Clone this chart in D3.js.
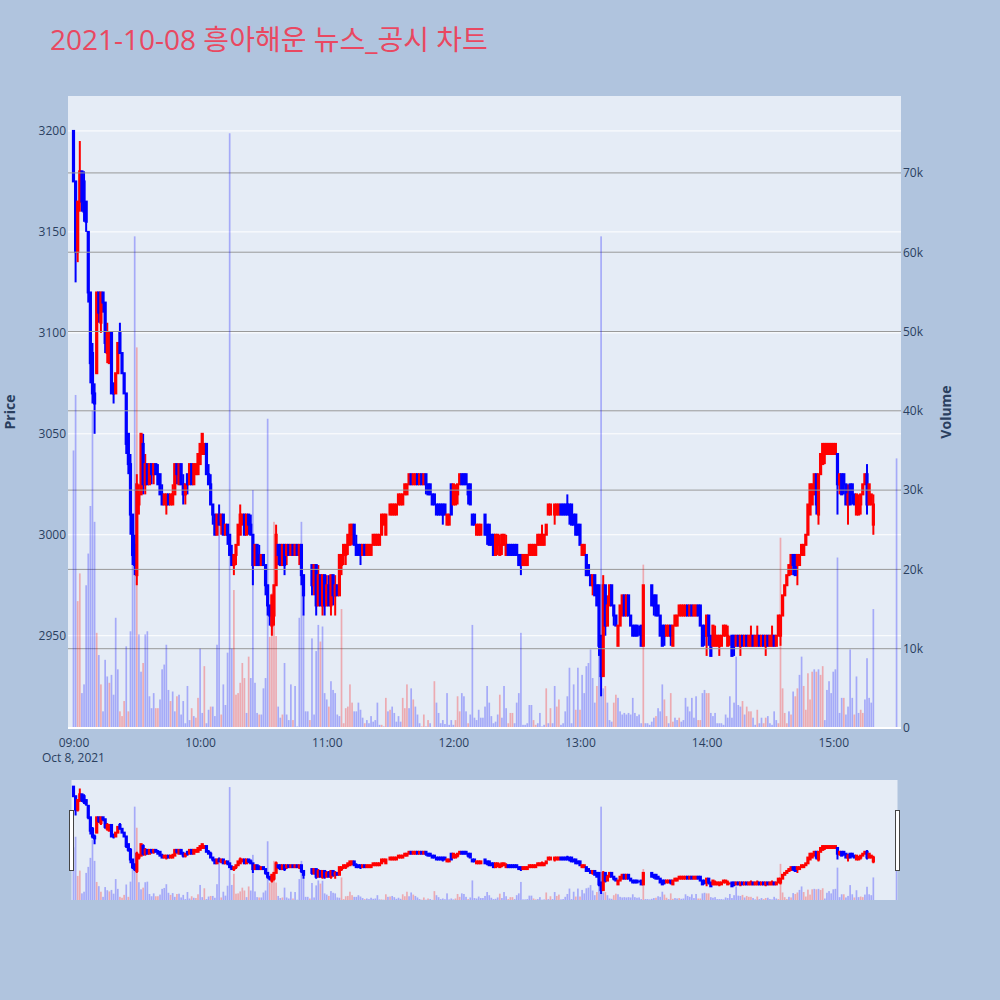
<!DOCTYPE html>
<html>
<head>
<meta charset="utf-8">
<script src="https://cdn.jsdelivr.net/npm/d3@7"></script>
<style>
  body { margin: 0; background: #b0c4de; }
  text { font-family: "Open Sans", "Noto Sans CJK KR", sans-serif; }
</style>
</head>
<body>
<div id="chart"></div>
<script>
// 1-minute candles 09:00 ~ 15:19, then the 15:30 closing auction
var opens = [
  3200,3175,3140,3165,3180,3175,3165,3150,3120,3090,
  3070,3080,3120,3105,3120,3115,3090,3085,3100,3075,
  3070,3080,3100,3090,3080,3070,3050,3035,3010,2995,
  2980,3015,3020,3045,3025,3035,3025,3035,3030,3035,
  3030,3030,3020,3015,3015,3020,3015,3015,3020,3035,
  3025,3035,3025,3020,3030,3025,3035,3025,3030,3030,
  3035,3040,3040,3045,3030,3025,3015,3010,3000,3010,
  3005,3010,3000,3005,3000,2990,2985,2990,2995,3000,
  3005,3010,3000,3010,3005,3000,2985,2995,2990,2985,
  2990,2985,2975,2965,2955,2960,2975,2995,2995,2985,
  2995,2990,2995,2990,2995,2990,2995,2990,2995,2980,
  2985,2985,2985,2985,2975,2985,2965,2980,2965,2980,
  2965,2975,2965,2980,2970,2975,2970,2985,2990,2990,
  2995,2995,3000,3005,2995,2995,2995,2990,2995,2990,
  2990,2990,2995,2995,2995,2995,3000,3005,3000,3010,
  3010,3010,3010,3010,3015,3015,3015,3020,3020,3025,
  3030,3025,3025,3030,3025,3030,3025,3030,3025,3025,
  3020,3020,3015,3015,3015,3015,3015,3005,3005,3025,
  3015,3015,3020,3025,3030,3030,3030,3025,3025,3010,
  3010,3000,3000,3000,3005,3010,3005,3005,3000,3000,
  2990,2995,2990,2995,2995,2990,2995,2995,2995,2995,
  2995,2990,2990,2985,2985,2985,2990,2990,2990,2990,
  2995,2995,2995,2995,3000,3010,3010,3010,3010,3010,
  3010,3015,3015,3015,3015,3015,3015,3010,3010,3005,
  3005,2990,2990,2990,2985,2980,2975,2980,2975,2975,
  2950,2930,2975,2955,2965,2975,2965,2960,2945,2955,
  2960,2970,2960,2970,2960,2955,2955,2955,2950,2955,
  2945,2975,2975,2975,2975,2970,2970,2965,2960,2955,
  2955,2950,2950,2955,2945,2955,2955,2960,2960,2960,
  2960,2965,2960,2965,2960,2960,2965,2965,2955,2955,
  2950,2960,2950,2945,2945,2945,2945,2945,2950,2950,
  2945,2950,2950,2950,2945,2950,2945,2950,2945,2950,
  2945,2945,2950,2945,2945,2950,2945,2950,2945,2950,
  2945,2945,2950,2945,2950,2950,2960,2970,2975,2980,
  2985,2990,2990,2985,2985,2990,2990,2995,3000,3010,
  3015,3020,3030,3010,3030,3035,3040,3040,3040,3040,
  3040,3040,3040,3025,3030,3030,3025,3015,3025,3025,
  3020,3010,3010,3015,3020,3025,3030,3015,3015,3005,
  3010
];
var highs = [
  3200,3175,3165,3195,3180,3180,3165,3150,3120,3095,
  3075,3120,3120,3120,3120,3115,3105,3100,3100,3075,
  3080,3095,3105,3090,3080,3070,3050,3040,3010,3000,
  3030,3025,3050,3050,3040,3035,3035,3035,3035,3035,
  3035,3030,3025,3020,3020,3020,3020,3025,3035,3035,
  3035,3035,3030,3025,3030,3035,3035,3035,3035,3040,
  3045,3050,3045,3045,3035,3030,3015,3010,3010,3015,
  3010,3010,3005,3005,3000,2995,2990,2995,3005,3015,
  3010,3010,3010,3010,3010,3000,2995,2995,2995,2990,
  2990,2985,2975,2965,2970,2975,3005,2995,2995,2995,
  2995,2995,2995,2995,2995,2995,2995,2995,2995,2980,
  2985,2985,2985,2985,2985,2985,2985,2980,2980,2980,
  2980,2980,2980,2980,2980,2975,2990,2990,2995,2995,
  3000,3005,3005,3005,3000,2995,2995,2995,2995,2995,
  2995,2995,3000,3000,3000,3000,3010,3010,3010,3010,
  3015,3015,3015,3015,3020,3020,3020,3025,3025,3030,
  3030,3030,3030,3030,3030,3030,3030,3030,3025,3025,
  3020,3020,3015,3015,3015,3015,3015,3010,3010,3025,
  3025,3025,3025,3030,3030,3030,3030,3025,3025,3010,
  3010,3005,3005,3005,3005,3010,3005,3005,3000,3000,
  3000,3000,3000,3000,3000,3000,2995,2995,2995,2995,
  2995,2990,2990,2990,2990,2990,2995,2995,2995,2995,
  3000,3000,3005,3000,3005,3015,3015,3010,3015,3015,
  3015,3015,3015,3015,3020,3015,3015,3010,3010,3005,
  3005,2995,2995,2990,2985,2980,2980,2980,2975,2975,
  2950,2980,2975,2970,2975,2975,2965,2960,2955,2965,
  2970,2970,2970,2970,2960,2955,2955,2955,2955,2955,
  2975,2975,2975,2975,2975,2970,2970,2965,2960,2955,
  2955,2955,2955,2955,2955,2960,2960,2965,2965,2965,
  2965,2965,2965,2965,2965,2965,2965,2965,2955,2955,
  2960,2960,2950,2955,2955,2950,2950,2950,2955,2955,
  2955,2950,2950,2950,2950,2950,2950,2950,2950,2950,
  2950,2955,2950,2950,2955,2950,2950,2950,2950,2950,
  2950,2955,2950,2950,2960,2960,2970,2975,2980,2985,
  2990,2990,2990,2990,2990,2995,2995,3000,3015,3025,
  3025,3030,3030,3030,3040,3045,3045,3045,3045,3045,
  3045,3045,3040,3030,3030,3030,3025,3025,3025,3025,
  3020,3020,3020,3020,3025,3030,3035,3025,3020,3020,
  3010
];
var lows = [
  3175,3125,3135,3160,3160,3155,3150,3115,3075,3065,
  3050,3080,3105,3100,3110,3090,3085,3085,3070,3065,
  3070,3080,3090,3080,3070,3040,3030,3000,2985,2980,
  2975,3010,3020,3020,3020,3025,3025,3025,3025,3030,
  3025,3020,3015,3015,3010,3015,3015,3015,3020,3025,
  3025,3025,3015,3015,3020,3025,3025,3025,3030,3030,
  3035,3040,3040,3030,3025,3015,3005,3000,3000,3005,
  3000,3000,3000,2995,2990,2985,2980,2985,2995,3000,
  3005,3000,3000,3000,3000,2975,2985,2985,2985,2985,
  2985,2970,2960,2955,2950,2955,2975,2985,2985,2985,
  2980,2985,2990,2990,2990,2990,2990,2985,2975,2960,
  2985,2985,2985,2970,2970,2960,2965,2965,2960,2960,
  2965,2965,2960,2965,2960,2970,2970,2980,2985,2985,
  2990,2995,2995,2995,2990,2990,2985,2990,2990,2990,
  2990,2990,2995,2995,2995,2995,3000,3005,3000,3010,
  3010,3010,3010,3010,3015,3015,3015,3020,3020,3025,
  3025,3025,3025,3025,3025,3025,3025,3020,3020,3020,
  3015,3015,3010,3010,3010,3005,3010,3005,3005,3010,
  3015,3015,3015,3025,3025,3025,3025,3015,3015,3005,
  3005,3000,3000,3000,3005,3000,2995,2995,2995,2990,
  2990,2990,2990,2990,2995,2990,2990,2990,2990,2990,
  2990,2985,2980,2985,2985,2985,2990,2990,2990,2990,
  2995,2995,2995,2995,3000,3010,3010,3010,3005,3010,
  3010,3010,3010,3010,3010,3005,3005,3005,3000,3000,
  2995,2990,2990,2980,2980,2975,2970,2970,2965,2940,
  2920,2930,2950,2955,2965,2965,2955,2955,2945,2955,
  2960,2960,2960,2960,2955,2950,2950,2950,2950,2945,
  2945,2975,2975,2975,2965,2960,2960,2960,2950,2945,
  2945,2950,2950,2945,2945,2955,2955,2960,2960,2960,
  2960,2960,2960,2960,2960,2960,2960,2955,2945,2945,
  2940,2945,2940,2945,2945,2945,2940,2945,2950,2950,
  2945,2945,2940,2940,2945,2945,2940,2945,2945,2945,
  2945,2945,2945,2945,2945,2945,2945,2945,2940,2945,
  2945,2945,2945,2945,2950,2945,2960,2970,2975,2980,
  2980,2980,2980,2975,2985,2990,2990,2995,3000,3010,
  3015,3020,3010,3005,3030,3035,3035,3040,3040,3040,
  3040,3040,3010,3020,3020,3020,3015,3005,3015,3015,
  3015,3010,3010,3010,3020,3025,3010,3015,3015,3000,
  3010
];
var closes = [
  3175,3140,3165,3180,3165,3160,3155,3120,3085,3070,
  3065,3120,3110,3120,3115,3095,3100,3100,3070,3070,
  3080,3095,3090,3080,3070,3045,3035,3010,2990,2985,
  3025,3020,3050,3025,3035,3025,3035,3030,3035,3030,
  3025,3020,3015,3020,3020,3015,3020,3020,3035,3030,
  3035,3025,3020,3025,3025,3035,3025,3035,3035,3040,
  3045,3050,3045,3030,3025,3015,3010,3000,3010,3005,
  3010,3000,3005,3000,2990,2985,2990,2995,3005,3010,
  3010,3000,3010,3005,3000,2985,2995,2985,2985,2990,
  2985,2975,2965,2960,2970,2975,3000,2990,2985,2995,
  2985,2995,2990,2995,2990,2995,2990,2995,2980,2970,
  2985,2985,2985,2975,2985,2965,2980,2965,2980,2965,
  2975,2965,2980,2970,2975,2970,2990,2990,2995,2995,
  3000,3005,3005,2995,2990,2990,2990,2995,2990,2995,
  2995,2995,3000,3000,3000,3000,3010,3010,3010,3010,
  3015,3015,3015,3015,3020,3020,3020,3025,3025,3030,
  3025,3030,3030,3025,3030,3025,3030,3025,3020,3020,
  3015,3015,3010,3010,3010,3010,3010,3010,3010,3010,
  3025,3020,3025,3030,3025,3025,3025,3020,3015,3005,
  3005,3005,3005,3005,3005,3000,3000,2995,2995,2990,
  3000,3000,2995,3000,3000,2995,2990,2990,2990,2990,
  2990,2985,2985,2990,2990,2990,2995,2995,2995,2995,
  3000,3000,3000,3000,3005,3015,3015,3010,3015,3015,
  3015,3010,3010,3010,3010,3010,3005,3005,3000,3000,
  2995,2995,2995,2980,2980,2975,2980,2970,2965,2945,
  2930,2975,2955,2965,2975,2965,2960,2955,2955,2965,
  2970,2960,2970,2960,2955,2950,2950,2950,2950,2945,
  2975,2975,2975,2975,2965,2965,2960,2960,2950,2945,
  2950,2955,2955,2950,2955,2960,2960,2965,2965,2965,
  2965,2960,2965,2960,2965,2965,2960,2955,2945,2950,
  2960,2950,2940,2955,2950,2950,2950,2950,2955,2955,
  2950,2950,2940,2945,2950,2945,2950,2945,2950,2945,
  2950,2950,2945,2950,2950,2945,2950,2945,2950,2945,
  2950,2950,2945,2950,2960,2960,2970,2975,2980,2985,
  2990,2985,2980,2990,2990,2995,2995,3000,3015,3025,
  3025,3030,3015,3030,3040,3045,3045,3045,3045,3045,
  3045,3045,3025,3030,3020,3025,3015,3020,3015,3020,
  3015,3020,3015,3020,3025,3030,3015,3025,3020,3015,
  3010
];
// volume in thousands of shares
var volumes = [
  35,42,16,19.5,4.4,5.5,18,22,28,40,
  26,12,9.2,5.5,2.1,8.6,6.5,5.7,6.7,4.2,
  13.9,7.4,2.1,1.5,3.4,10.3,2.1,12.2,22,62,
  48,11.8,7.1,8.2,11.8,12.2,4,2.5,4.4,2.5,
  2.5,3.6,7.4,8,10.5,4.8,3.4,4.6,2.1,4,
  4.2,1.7,3.4,0.6,5.3,1,2.5,1.5,1.3,3.8,
  10,1.9,7.8,0.6,2.3,2.7,2.7,1.5,10.5,26,
  1.7,5.5,2.9,9.5,75,10,17.4,4.2,4.4,5.7,
  8.2,6.3,1.9,9,6.3,30,5.7,1.9,1.7,1.7,
  5,6.3,39,11.5,17,26,11.6,2.7,1.3,1.7,
  8.2,1.7,1,5.5,1,5.3,0.2,13.9,26,14.3,
  2.1,2.1,1,11.3,1.7,9.7,13,10.9,12.8,4.4,
  3.6,2.7,5.9,4.8,4.4,1.7,1.5,15,0.6,2.5,
  2.7,5.5,3.2,2.1,2.1,3.2,2.3,1.3,0.6,1,
  0.6,1.5,0.8,1,3.2,0.4,0.4,0.2,3.8,2.1,
  2.3,2.7,1.9,0.8,1.5,0.8,3.8,2.5,5.5,2.5,
  5,3.6,2.7,1.7,0.6,0.2,1.7,0.2,1,0.6,
  0.1,5.9,3.2,1.9,0.6,1,0.5,4.4,0.4,1,
  0.4,1,4,2.1,4.4,4,2.1,0.6,1.7,13,
  1.3,1,2.3,1.3,1.3,2.7,5.3,3.2,1.5,0.6,
  0.8,1.7,4.2,1.3,5.3,2.5,0.6,1.9,1.9,0.6,
  3.2,4.4,12,0.4,0.4,0.6,2.9,2.9,1,0.4,
  0.6,1.9,0.2,0.4,5,0.6,2.5,0.6,5.3,2.7,
  3.6,0.4,0.6,2.1,4,7.6,0.6,5.5,2.3,7.6,
  2.3,6.7,4.4,7.8,8.2,9.9,6.3,3.2,5.3,9.7,
  62,5,5.3,3.2,1,0.8,3.2,4.2,3.8,2.1,
  1.7,1.9,1.7,1.9,1.7,3.8,1.9,1.5,1.7,0.6,
  20.6,0.6,0.6,0.4,0.8,1.3,1.5,2.5,2.1,5.5,
  3.6,1.5,0.6,4.4,0.8,1.3,1,1.3,0.8,1,
  3.8,2.7,2.1,3.8,1.3,4,1,1,4.4,4.8,
  4.4,4.4,1.9,1.5,1.9,0.6,0.6,0.6,0.4,1.7,
  1.3,4,1.3,3.2,9,2.9,2.7,3.4,1.7,2.7,
  2.1,2.1,1.3,0.4,2.3,0.6,1.3,0.6,1.3,1.5,
  0.6,0.4,2.1,1,0.6,24,5,1.9,0.6,2.1,
  1.7,4.6,4,5,6.7,9,5.3,2.3,6.9,3.6,
  7.1,7.4,7.1,7.4,6.7,7.8,1,4.8,5.9,4.4,
  7.1,7.4,21.5,1.9,3.8,3.8,1.7,2.7,9.9,3.8,
  1.7,6.5,1.9,2.3,1.9,3.6,8.8,3.8,3.2,15,
  34
];
// 1 = bar drawn red, 0 = blue
var volRed = [
  0,0,1,1,0,0,0,0,0,0, 0,1,0,1,0,0,0,1,0,0, 0,0,1,1,1,0,1,0,0,0, 1,0,0,1,0,0,0,0,0,1,
  1,0,0,0,0,0,1,0,0,1, 0,0,0,0,0,0,1,0,1,1, 0,0,1,0,0,1,0,0,0,0, 1,0,0,0,0,0,1,1,1,1,
  1,1,0,1,0,0,0,0,1,0, 0,0,0,1,1,1,1,0,0,1, 0,0,0,0,1,0,0,0,0,0, 0,0,1,0,0,0,0,1,0,0,
  0,1,0,0,0,0,0,1,1,1, 1,1,1,0,0,0,0,0,1,0, 0,0,0,0,0,0,1,0,1,0, 1,0,0,0,0,0,1,1,1,0,
  0,1,0,0,0,1,1,0,1,0, 0,1,0,0,0,0,0,0,0,0, 0,1,1,1,0,0,0,1,0,0, 0,0,0,0,0,0,0,0,0,0,
  0,0,1,0,0,0,1,1,1,0, 0,0,0,0,0,0,0,0,1,1, 0,0,0,0,1,0,1,0,0,1, 1,0,0,0,0,0,0,0,1,0,
  1,0,0,0,0,0,0,0,1,0, 0,0,1,0,0,0,1,1,0,0, 0,0,0,0,0,0,0,0,0,0, 1,0,0,0,0,0,1,0,0,0,
  1,1,0,1,1,0,0,1,0,0, 0,0,0,0,0,0,1,1,0,0, 1,1,0,0,0,0,0,0,0,0, 0,0,0,0,0,0,0,1,0,1,
  1,1,0,0,1,0,0,1,1,0, 0,0,0,0,1,1,1,1,1,0, 1,0,1,1,0,0,1,1,1,1, 1,0,1,0,1,1,0,0,0,0,
  0,0,0,0,0,1,0,0,0,0, 1,0,0,1,1,0,0,0,0,0,
  0
];
var priceTicks = [2950, 3000, 3050, 3100, 3150, 3200];
var volumeTicks = [0, 10, 20, 30, 40, 50, 60, 70];
var titleText = "2021-10-08 흥아해운 뉴스_공시 차트";

// minutes after 09:00 for every candle (continuous session + 15:30 auction)
var sessionStart = new Date(2021, 9, 8, 9, 0);
var minuteOffsets = d3.range(380).concat([390]);
var times = minuteOffsets.map(m => d3.timeMinute.offset(sessionStart, m));

// plotly style up/down: equal open/close follows previous close
var rising = [];
closes.forEach(function (c, i) {
  var o = opens[i];
  if (c > o) rising.push(true);
  else if (c < o) rising.push(false);
  else if (i === 0) rising.push(false);
  else if (c > closes[i - 1]) rising.push(true);
  else if (c < closes[i - 1]) rising.push(false);
  else rising.push(rising[i - 1]);
});

var svgWidth = 1000, svgHeight = 1000;
var plot = { left: 68, right: 901, top: 96, bottom: 728 };
var slider = { left: 71.5, right: 897.5, top: 780, bottom: 900 };
var textColor = '#2a3f5f';

var svg = d3.select('#chart').append('svg')
  .attr('width', svgWidth)
  .attr('height', svgHeight);

svg.append('rect')
  .attr('width', svgWidth).attr('height', svgHeight)
  .attr('fill', '#b0c4de');

svg.append('text')
  .attr('x', 50).attr('y', 50)
  .attr('font-size', 28)
  .attr('fill', 'rgb(233,72,97)')
  .text(titleText);

// scales
var x = d3.scaleTime()
  .domain([d3.timeSecond.offset(times[0], -156), d3.timeSecond.offset(times[times.length - 1], 126)])
  .range([plot.left, plot.right]);

var yPrice = d3.scaleLinear().domain([2904.3, 3217.3]).range([plot.bottom, plot.top]);
var yVol = d3.scaleLinear().domain([0, 79.7]).range([plot.bottom, plot.top]);
var yPriceMini = d3.scaleLinear().domain(yPrice.domain()).range([slider.bottom, slider.top]);
var yVolMini = d3.scaleLinear().domain(yVol.domain()).range([slider.bottom, slider.top]);

var defs = svg.append('defs');
defs.append('clipPath').attr('id', 'clipMain').append('rect')
  .attr('x', plot.left).attr('y', plot.top)
  .attr('width', plot.right - plot.left).attr('height', plot.bottom - plot.top);
defs.append('clipPath').attr('id', 'clipMini').append('rect')
  .attr('x', slider.left).attr('y', slider.top)
  .attr('width', slider.right - slider.left).attr('height', slider.bottom - slider.top);

// plot background
svg.append('rect')
  .attr('x', plot.left).attr('y', plot.top)
  .attr('width', plot.right - plot.left).attr('height', plot.bottom - plot.top)
  .attr('fill', '#e5ecf6');

// price grid (white)
svg.append('g').selectAll('line')
  .data(priceTicks).enter().append('line')
  .attr('x1', plot.left).attr('x2', plot.right)
  .attr('y1', d => yPrice(d)).attr('y2', d => yPrice(d))
  .attr('stroke', '#fff').attr('stroke-width', 1);

function drawCandles(g, yScale, bodyW) {
  var idx = d3.range(times.length);
  g.selectAll('line.wick')
    .data(idx).enter().append('line')
    .attr('class', 'wick')
    .attr('x1', i => x(times[i])).attr('x2', i => x(times[i]))
    .attr('y1', i => yScale(highs[i])).attr('y2', i => yScale(lows[i]))
    .attr('stroke', i => rising[i] ? '#ff0000' : '#0000ff')
    .attr('stroke-width', 2);
  g.selectAll('rect.body')
    .data(idx).enter().append('rect')
    .attr('class', 'body')
    .attr('x', i => x(times[i]) - bodyW / 2)
    .attr('width', bodyW)
    .attr('y', i => yScale(Math.max(opens[i], closes[i])))
    .attr('height', i => Math.abs(yScale(opens[i]) - yScale(closes[i])))
    .attr('fill', i => rising[i] ? '#ff0000' : '#0000ff')
    .attr('stroke', i => rising[i] ? '#ff0000' : '#0000ff')
    .attr('stroke-width', 2);
}

function drawVolume(g, yScale, barW) {
  g.selectAll('rect.vol')
    .data(d3.range(times.length)).enter().append('rect')
    .attr('class', 'vol')
    .attr('x', i => x(times[i]) - barW / 2)
    .attr('width', barW)
    .attr('y', i => yScale(volumes[i]))
    .attr('height', i => yScale(0) - yScale(volumes[i]))
    .attr('fill', i => volRed[i] ? '#ff0000' : '#0000ff')
    .attr('fill-opacity', 0.28);
}

var mainG = svg.append('g').attr('clip-path', 'url(#clipMain)');
drawCandles(mainG.append('g'), yPrice, 1.2);

// volume grid (grey) sits on the overlay layer, above the candles
mainG.append('g').selectAll('line')
  .data(volumeTicks.slice(1)).enter().append('line')
  .attr('x1', plot.left).attr('x2', plot.right)
  .attr('y1', d => yVol(d)).attr('y2', d => yVol(d))
  .attr('stroke', '#999').attr('stroke-width', 1);

drawVolume(mainG.append('g'), yVol, 1.7);

// zero line of the volume axis
svg.append('line')
  .attr('x1', plot.left).attr('x2', plot.right)
  .attr('y1', yVol(0)).attr('y2', yVol(0))
  .attr('stroke', '#fff').attr('stroke-width', 2);

// axes
var leftAxis = d3.axisLeft(yPrice).tickValues(priceTicks).tickSize(0).tickPadding(2)
  .tickFormat(d3.format('d'));
var rightAxis = d3.axisRight(yVol).tickValues(volumeTicks).tickSize(0).tickPadding(2)
  .tickFormat(d => d === 0 ? '0' : d + 'k');
var bottomAxis = d3.axisBottom(x).ticks(d3.timeHour.every(1))
  .tickFormat(d3.timeFormat('%H:%M')).tickSize(0).tickPadding(10);

function styleAxis(g) {
  g.select('.domain').remove();
  g.selectAll('text').attr('fill', textColor).attr('font-size', 12)
    .style('font-family', '"Open Sans", sans-serif');
}

svg.append('g').attr('transform', `translate(${plot.left},0)`).call(leftAxis).call(styleAxis);
svg.append('g').attr('transform', `translate(${plot.right},0)`).call(rightAxis).call(styleAxis);
svg.append('g').attr('transform', `translate(0,${plot.bottom})`).call(bottomAxis).call(styleAxis);

svg.append('text')
  .attr('x', x(times[0])).attr('y', 762)
  .attr('text-anchor', 'middle')
  .attr('font-size', 12).attr('fill', textColor)
  .text(d3.timeFormat('%b %-d, %Y')(times[0]));

svg.append('text')
  .attr('transform', `translate(15,${(plot.top + plot.bottom) / 2}) rotate(-90)`)
  .attr('text-anchor', 'middle')
  .attr('font-size', 14).attr('font-weight', 'bold').attr('fill', textColor)
  .text('Price');

svg.append('text')
  .attr('transform', `translate(951,${(plot.top + plot.bottom) / 2}) rotate(-90)`)
  .attr('text-anchor', 'middle')
  .attr('font-size', 14).attr('font-weight', 'bold').attr('fill', textColor)
  .text('Volume');

// range slider
svg.append('rect')
  .attr('x', slider.left).attr('y', slider.top)
  .attr('width', slider.right - slider.left).attr('height', slider.bottom - slider.top)
  .attr('fill', '#e5ecf6');

var miniG = svg.append('g').attr('clip-path', 'url(#clipMini)');
drawCandles(miniG.append('g'), yPriceMini, 1.2);
drawVolume(miniG.append('g'), yVolMini, 1.7);

var handleH = (slider.bottom - slider.top) / 2;
[plot.left + 1, plot.right - 6].forEach(function (hx) {
  svg.append('rect')
    .attr('x', hx + 0.5).attr('y', slider.top + handleH / 2 + 0.5)
    .attr('width', 4).attr('height', handleH)
    .attr('fill', '#fff').attr('stroke', '#444').attr('stroke-width', 1);
});
</script>
</body>
</html>
